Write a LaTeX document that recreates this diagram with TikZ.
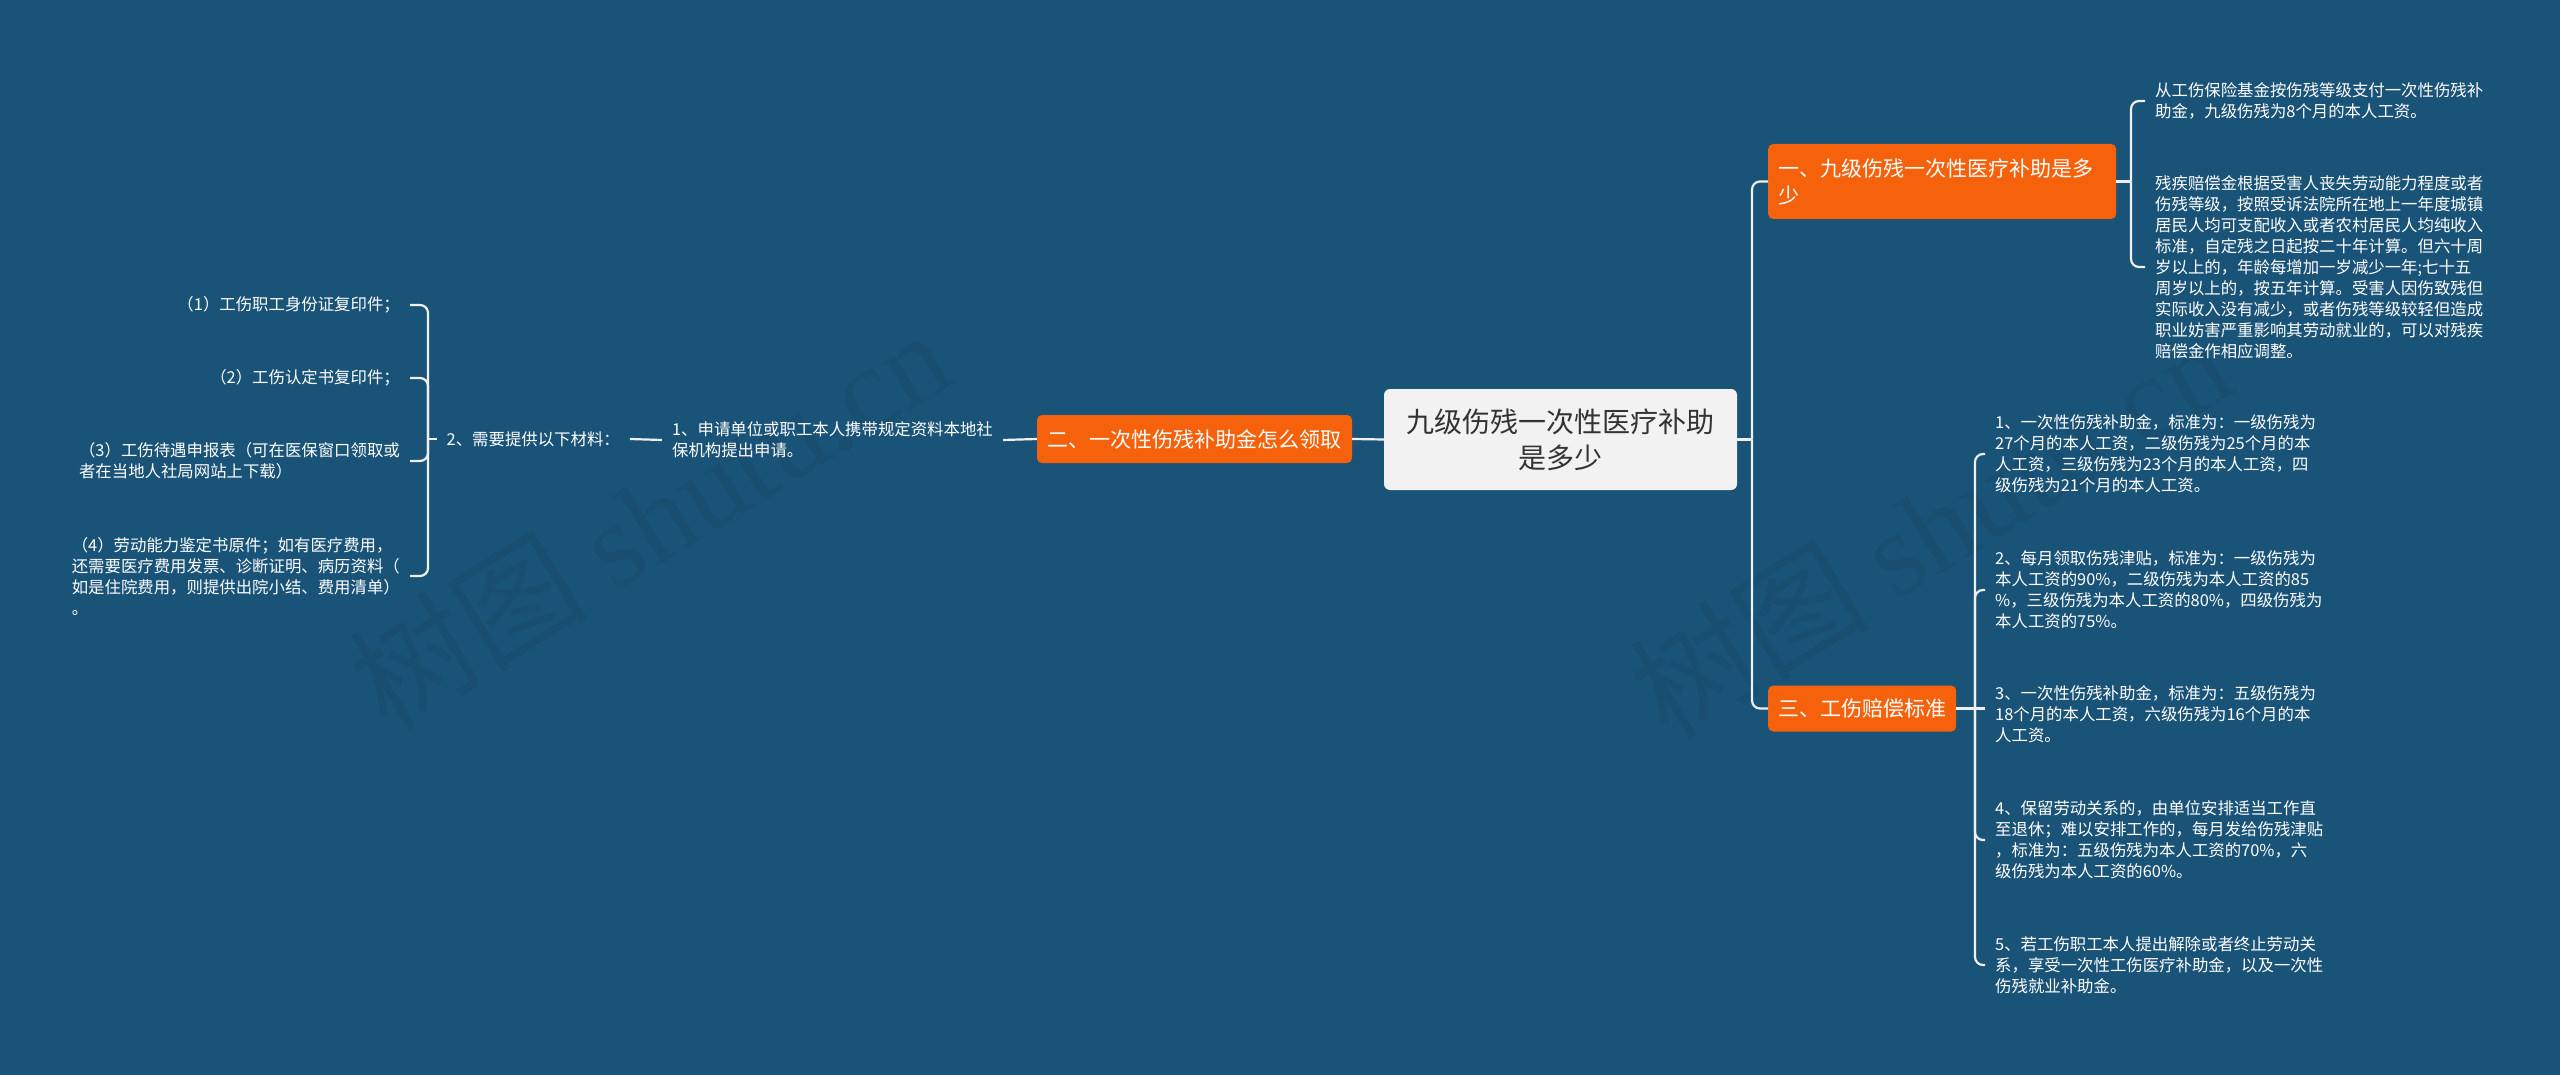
\documentclass[tikz,border=0pt]{standalone}
\usepackage{fontspec}
\setmainfont{Noto Sans CJK SC}
\newfontfamily\wmlatin{Liberation Serif}
\definecolor{bg}{RGB}{26,83,120}
\definecolor{orng}{RGB}{246,98,12}
\definecolor{cnode}{RGB}{242,242,242}
\definecolor{ctext}{RGB}{51,51,51}
\definecolor{lnk}{RGB}{240,240,240}
\tikzset{
  leaf/.style={font=\fontsize{16.4}{21}\selectfont, text=white, align=left, inner xsep=10pt, inner ysep=0pt},
  branchbox/.style={fill=orng, rounded corners=5pt, text=white, font=\fontsize{21}{27}\selectfont, inner xsep=10pt, inner ysep=0pt},
  centralbox/.style={fill=cnode, rounded corners=6pt, text=ctext, font=\fontsize{28}{36}\selectfont, align=center, minimum width=353pt, minimum height=101pt, inner sep=0pt},
  link/.style={draw=lnk, line width=2.2pt, rounded corners=8pt},
  watermark/.style={text=black, text opacity=0.06, font=\fontsize{120}{120}\selectfont, inner sep=0pt}
}
\begin{document}
\begin{tikzpicture}[x=1pt,y=-1pt]
\useasboundingbox (0,0) rectangle (2560,1075);
\fill[bg] (0,0) rectangle (2560,1075);

% watermarks
\node[watermark, rotate=31.6] (wm1) at (649,518) {树图 {\wmlatin shutu.cn}};
\node[watermark, rotate=31.6] (wm2) at (1930,527) {树图 {\wmlatin shutu.cn}};

% central
\node[centralbox] (c) at (1560.5,439.5) {九级伤残一次性医疗补助\\是多少};

% branches
\node[branchbox, anchor=west, text width=328pt, minimum height=75pt, align=left] (b1) at (1768,181.5) {一、九级伤残一次性医疗补助是多\\少};
\node[branchbox, minimum width=315pt, minimum height=48pt] (b2) at (1194.5,439) {二、一次性伤残补助金怎么领取};
\node[branchbox, anchor=west, minimum width=188pt, minimum height=46pt] (b3) at (1768,708.5) {三、工伤赔偿标准};

% branch 1 children
\node[leaf, anchor=west] (b1c1) at (2145,101) {从工伤保险基金按伤残等级支付一次性伤残补\\助金，九级伤残为8个月的本人工资。};
\node[leaf, anchor=west] (b1c2) at (2145,267) {残疾赔偿金根据受害人丧失劳动能力程度或者\\伤残等级，按照受诉法院所在地上一年度城镇\\居民人均可支配收入或者农村居民人均纯收入\\标准，自定残之日起按二十年计算。但六十周\\岁以上的，年龄每增加一岁减少一年;七十五\\周岁以上的，按五年计算。受害人因伤致残但\\实际收入没有减少，或者伤残等级较轻但造成\\职业妨害严重影响其劳动就业的，可以对残疾\\赔偿金作相应调整。};

% branch 3 children
\node[leaf, anchor=west] (b3c1) at (1985,454) {1、一次性伤残补助金，标准为：一级伤残为\\27个月的本人工资，二级伤残为25个月的本\\人工资，三级伤残为23个月的本人工资，四\\级伤残为21个月的本人工资。};
\node[leaf, anchor=west] (b3c2) at (1985,590) {2、每月领取伤残津贴，标准为：一级伤残为\\本人工资的90\%，二级伤残为本人工资的85\\\%，三级伤残为本人工资的80\%，四级伤残为\\本人工资的75\%。};
\node[leaf, anchor=west] (b3c3) at (1985,714) {3、一次性伤残补助金，标准为：五级伤残为\\18个月的本人工资，六级伤残为16个月的本\\人工资。};
\node[leaf, anchor=west] (b3c4) at (1985,840) {4、保留劳动关系的，由单位安排适当工作直\\至退休；难以安排工作的，每月发给伤残津贴\\，标准为：五级伤残为本人工资的70\%，六\\级伤残为本人工资的60\%。};
\node[leaf, anchor=west] (b3c5) at (1985,965) {5、若工伤职工本人提出解除或者终止劳动关\\系，享受一次性工伤医疗补助金，以及一次性\\伤残就业补助金。};

% branch 2 descendants
\node[leaf, anchor=east] (l1) at (1003,440) {1、申请单位或职工本人携带规定资料本地社\\保机构提出申请。};
\node[leaf, anchor=east] (l2) at (630,439) {2、需要提供以下材料：};
\node[leaf, anchor=east] (lc1) at (410,305) {（1）工伤职工身份证复印件；};
\node[leaf, anchor=east] (lc2) at (410,378) {（2）工伤认定书复印件；};
\node[leaf, anchor=east] (lc3) at (410,461) {（3）工伤待遇申报表（可在医保窗口领取或\\者在当地人社局网站上下载）};
\node[leaf, anchor=east] (lc4) at (410,576) {（4）劳动能力鉴定书原件；如有医疗费用，\\还需要医疗费用发票、诊断证明、病历资料（\\如是住院费用，则提供出院小结、费用清单）\\。};

% spines
\coordinate (rs) at (1752,439.5);
\coordinate (s1) at (2131,181.5);
\coordinate (s3) at (1975,708.5);
\coordinate (s2) at (428,439);

% connectors right
\draw[link] (c.east) -- (rs);
\draw[link] (rs) |- (b1.west);
\draw[link] (rs) |- (b3.west);
\draw[link] (b1.east) -- (s1);
\draw[link] (s1) |- (b1c1.west);
\draw[link] (s1) |- (b1c2.west);
\draw[link] (b3.east) -- (s3);
\draw[link] (s3) |- (b3c1.west);
\draw[link] (s3) |- (b3c2.west);
\draw[link] (s3) -- (s3 -| b3c3.west);
\draw[link] (s3) |- (b3c4.west);
\draw[link] (s3) |- (b3c5.west);

% connectors left
\draw[link] (c.west) -- (b2.east);
\draw[link] (b2.west) -- (l1.east);
\draw[link] (l1.west) -- (l2.east);
\draw[link] (l2.west) -- (s2);
\draw[link] (s2) |- (lc1.east);
\draw[link] (s2) |- (lc2.east);
\draw[link] (s2) |- (lc3.east);
\draw[link] (s2) |- (lc4.east);
\end{tikzpicture}
\end{document}
